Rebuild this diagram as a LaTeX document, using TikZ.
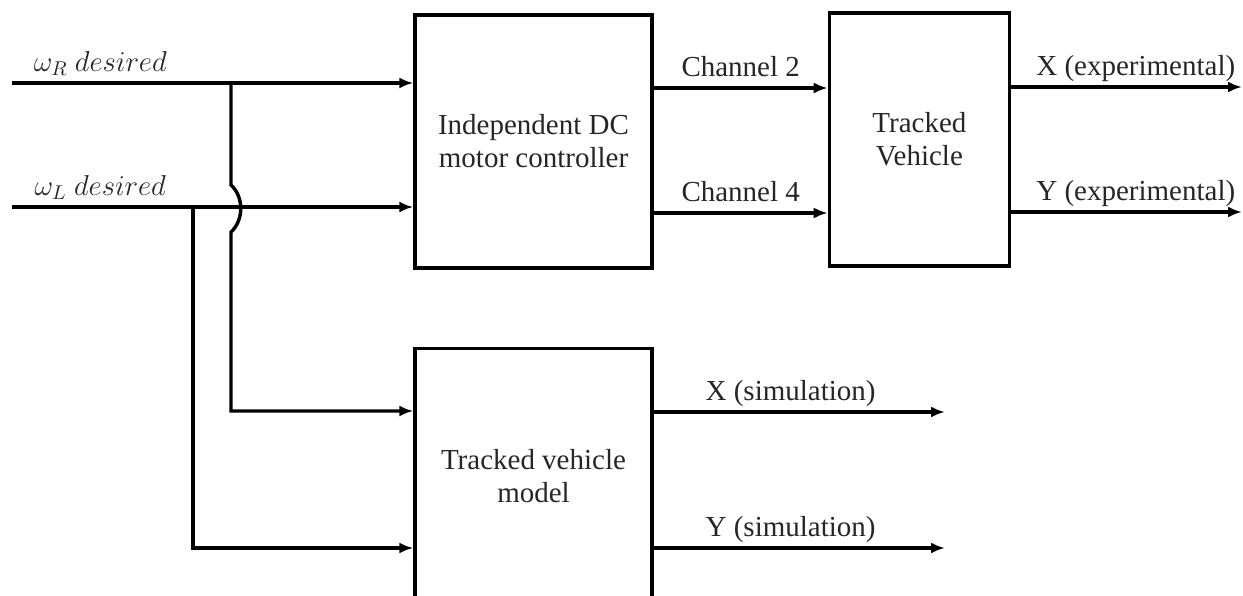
\documentclass[tikz,border=0pt]{standalone}
\usepackage{fontspec}
\setmainfont{Liberation Serif}
\usetikzlibrary{arrows.meta,positioning}

\begin{document}
\begin{tikzpicture}[x=0.5pt, y=-0.5pt, node distance=88pt, font=\fontsize{14.5}{16.5}\selectfont]
    % Styles
    \tikzstyle{block} = [rectangle, draw, line width=1.7pt, minimum width=118.5pt, minimum height=126.5pt, align=center, inner sep=0pt, text=black!85]
    \tikzstyle{arrow} = [line width=1.7pt, -{Latex[length=7pt,width=5.5pt]}]
    \tikzstyle{lbl} = [above, inner sep=2pt, text depth=0.3em, text=black!85]

    \useasboundingbox (0,0) rectangle (1243,595);

    % Nodes
    \node [block] (ctrl) at (533.5,141.5) {Independent DC\\motor controller};
    \node [block, minimum width=90pt, right=87pt of ctrl, yshift=1pt] (vehicle) {Tracked\\Vehicle};
    \node [block, below=38.5pt of ctrl, minimum height=127.5pt] (model) {Tracked vehicle\\model};

    % Inputs
    \coordinate (inR) at (12,83);
    \coordinate (inL) at (12,207);
    \coordinate (jR) at (231,83);
    \coordinate (jL) at (193,207);
    \coordinate (hopTop) at (231,185);
    \coordinate (hopBot) at (231,232);

    \draw[arrow] (inR) -- node[lbl, pos=0.22] {$\omega_R\ desired$} (inR -| ctrl.west);
    \draw[arrow] (inL) -- node[lbl, pos=0.22] {$\omega_L\ desired$} (inL -| ctrl.west);

    % Branches to the model
    \draw[arrow] (jR) -- (hopTop) .. controls (244,197) and (244,220) .. (hopBot) |- (model.west |- 0,411);
    \draw[arrow] (jL) |- (model.west |- 0,548);

    % Outputs
    \coordinate (outX) at (1242,87);
    \coordinate (outY) at (1242,212);
    \coordinate (simX) at (945,412);
    \coordinate (simY) at (945,548);

    \draw[arrow] (ctrl.east |- 0,88) -- node[lbl] {Channel 2} (vehicle.west |- 0,88);
    \draw[arrow] (ctrl.east |- 0,213) -- node[lbl] {Channel 4} (vehicle.west |- 0,213);
    \draw[arrow] (vehicle.east |- outX) -- node[lbl, pos=0.54] {X (experimental)} (outX);
    \draw[arrow] (vehicle.east |- outY) -- node[lbl, pos=0.54] {Y (experimental)} (outY);
    \draw[arrow] (model.east |- simX) -- node[lbl, pos=0.47] {X (simulation)} (simX);
    \draw[arrow] (model.east |- simY) -- node[lbl, pos=0.47] {Y (simulation)} (simY);
\end{tikzpicture}
\end{document}
